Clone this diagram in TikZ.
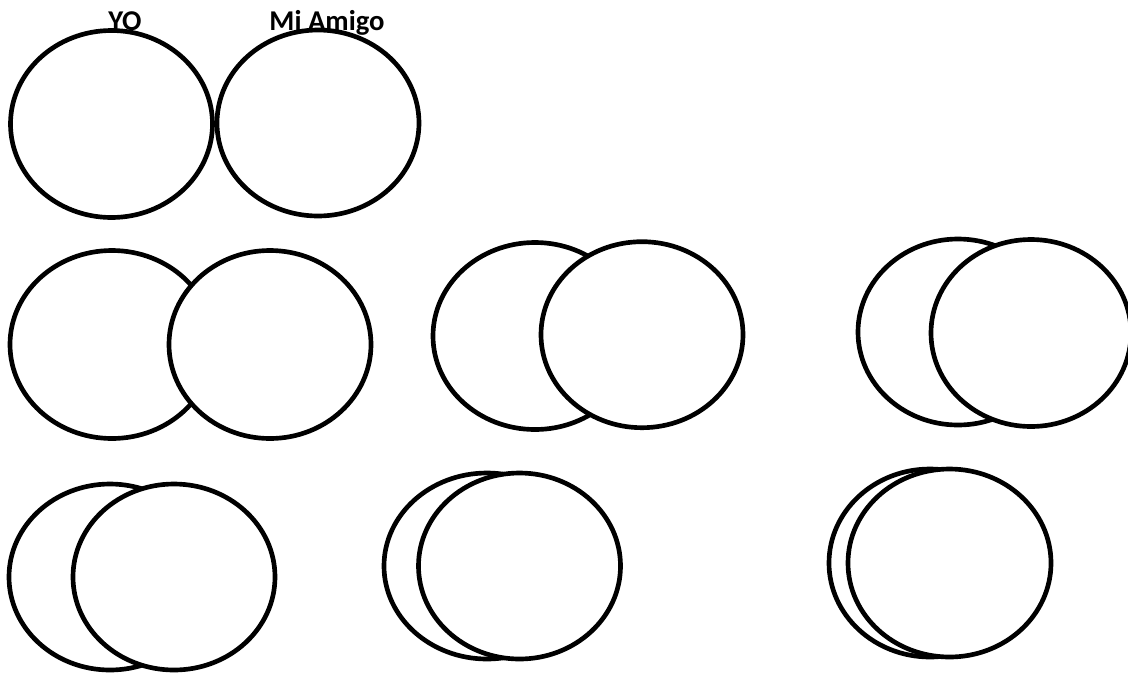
\documentclass[tikz,border=0pt]{standalone}
\usepackage{fontspec}
\setmainfont{Carlito}
\begin{document}
\begin{tikzpicture}[x=0.75pt,y=-0.75pt,
  venn/.style={draw=black,fill=white,line width=3.5pt},
  lbl/.style={font=\fontsize{21.5}{25}\selectfont\bfseries,inner sep=0pt,anchor=base}]
\useasboundingbox (0,0) rectangle (1128,672);
% row 1
\draw[venn] (111.5,124) ellipse [x radius=101,y radius=93.5];
\draw[venn] (318,123) ellipse [x radius=101,y radius=93];
% row 2
\draw[venn] (112,344.5) ellipse [x radius=102,y radius=94];
\draw[venn] (270,344.5) ellipse [x radius=101,y radius=94];
\draw[venn] (535,336) ellipse [x radius=102,y radius=93.5];
\draw[venn] (642,334.7) ellipse [x radius=101,y radius=93];
\draw[venn] (958,332) ellipse [x radius=100,y radius=93];
\draw[venn] (1031,333) ellipse [x radius=100,y radius=93.5];
% row 3
\draw[venn] (110,577) ellipse [x radius=101,y radius=93];
\draw[venn] (174,577) ellipse [x radius=101,y radius=93];
\draw[venn] (487,566) ellipse [x radius=103,y radius=93];
\draw[venn] (519.5,566) ellipse [x radius=101,y radius=93];
\draw[venn] (930,563) ellipse [x radius=101,y radius=94];
\draw[venn] (949.5,563) ellipse [x radius=101.5,y radius=94];
% labels
\node[lbl] (yo) at (125,30) {YO};
\node[lbl] (amigo) at (327,30) {Mi Amigo};
\end{tikzpicture}
\end{document}
